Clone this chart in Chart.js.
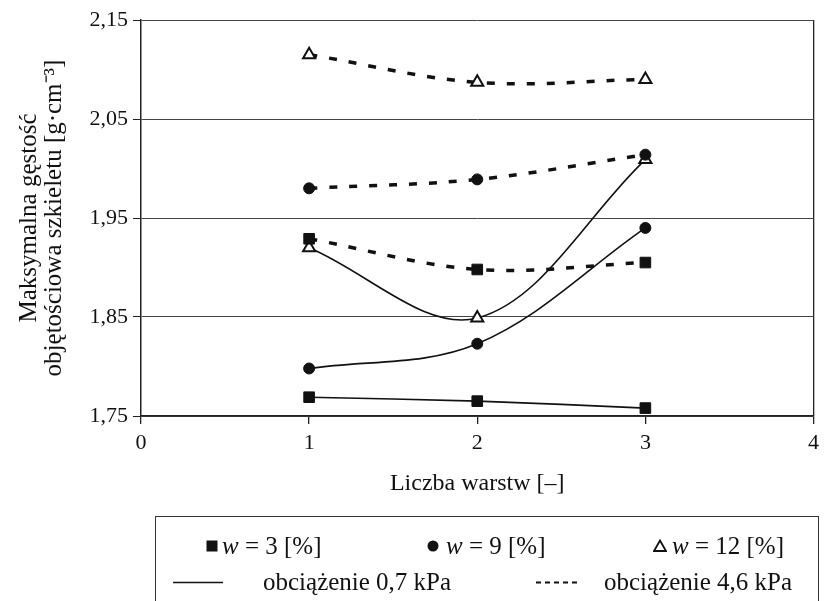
<!DOCTYPE html>
<html>
<head>
<meta charset="utf-8">
<script src="https://cdn.jsdelivr.net/npm/chart.js@4.4.0/dist/chart.umd.min.js"></script>
<style>
  html, body { margin: 0; padding: 0; background: #fff; }
  #wrap { position: relative; width: 825px; height: 601px; overflow: hidden;
          font-family: "Liberation Serif", serif; color: #111; }
  #chart { position: absolute; left: 0; top: 0; }
  #legend { position: absolute; left: 155px; top: 516px; width: 664px; height: 110px;
            border: 1.5px solid #333; box-sizing: border-box; }
  .txt { position: absolute; font-size: 25px; height: 28px; line-height: 28px; white-space: nowrap; }
  .ico { position: absolute; }
</style>
</head>
<body>
<div id="wrap">
  <canvas id="chart" width="825" height="601"></canvas>
  <div id="legend">
    <svg class="ico" style="left:50px;top:23px" width="12" height="12"><rect x="0.5" y="0.5" width="11" height="11" fill="#111"/></svg>
    <div class="txt" style="left:66px;top:15px"><i>w</i> = 3 [%]</div>
    <svg class="ico" style="left:271px;top:23px" width="12" height="12"><circle cx="6" cy="6" r="5.5" fill="#111"/></svg>
    <div class="txt" style="left:290px;top:15px"><i>w</i> = 9 [%]</div>
    <svg class="ico" style="left:497px;top:22px" width="14" height="13"><polygon points="7,1.5 13,12 1,12" fill="#fff" stroke="#111" stroke-width="1.8"/></svg>
    <div class="txt" style="left:516px;top:15px"><i>w</i> = 12 [%]</div>
    <svg class="ico" style="left:17px;top:64px" width="50" height="3"><line x1="0" y1="1.5" x2="50" y2="1.5" stroke="#111" stroke-width="1.6"/></svg>
    <div class="txt" style="left:107px;top:51px">obciążenie 0,7 kPa</div>
    <svg class="ico" style="left:380px;top:64px" width="42" height="3"><line x1="0" y1="1.5" x2="42" y2="1.5" stroke="#111" stroke-width="1.8" stroke-dasharray="5,4"/></svg>
    <div class="txt" style="left:448px;top:51px">obciążenie 4,6 kPa</div>
  </div>
</div>
<script>
const layers = [1, 2, 3];
const xTicks = [0, 1, 2, 3, 4];
const yTicks = [1.75, 1.85, 1.95, 2.05, 2.15];

// 0,7 kPa
const w3Low = [1.769, 1.765, 1.758];
const w9Low = [1.798, 1.823, 1.940];
const w12Low = [1.920, 1.849, 2.009];
// 4,6 kPa
const w3High = [1.929, 1.898, 1.905];
const w9High = [1.980, 1.989, 2.014];
const w12High = [2.115, 2.087, 2.090];

const serif = 'Liberation Serif';
const ink = '#111';

function series(label, values, dashed, marker, order) {
    const ds = {
        label: label,
        data: layers.map((x, i) => ({ x: x, y: values[i] })),
        borderColor: ink,
        borderWidth: dashed ? 3.5 : 1.6,
        borderDash: dashed ? [8, 12] : [],
        borderCapStyle: 'butt',
        tension: 0.35,
        fill: false,
        pointStyle: marker,
        pointBorderColor: ink,
        pointBackgroundColor: ink,
        pointBorderWidth: 1,
        pointRadius: 5.5,
        order: order
    };
    if (marker === 'rect') ds.pointRadius = 7.5;
    if (marker === 'triangle') {
        ds.pointBackgroundColor = '#fff';
        ds.pointBorderWidth = 2;
        ds.pointRadius = 7;
    }
    return ds;
}

const datasets = [
    series('w = 12 [%], 0,7 kPa', w12Low, false, 'triangle', 3),
    series('w = 12 [%], 4,6 kPa', w12High, true, 'triangle', 3),
    series('w = 3 [%], 0,7 kPa', w3Low, false, 'rect', 2),
    series('w = 3 [%], 4,6 kPa', w3High, true, 'rect', 2),
    series('w = 9 [%], 0,7 kPa', w9Low, false, 'circle', 1),
    series('w = 9 [%], 4,6 kPa', w9High, true, 'circle', 1)
];

const myChart = new Chart(document.getElementById('chart'), {
    type: 'line',
    data: { datasets: datasets },
    options: {
        responsive: false,
        animation: false,
        layout: { padding: { left: 0, right: 7, top: 20, bottom: 103 } },
        plugins: { legend: { display: false }, tooltip: { enabled: false } },
        scales: {
            x: {
                type: 'linear',
                min: 0,
                max: 4,
                afterBuildTicks: s => { s.ticks = xTicks.map(v => ({ value: v })); },
                afterFit: s => { s.height = 82; },
                grid: {
                    color: c => (c.tick && c.tick.value === 4) ? '#222' : 'rgba(0,0,0,0)',
                    tickColor: '#222',
                    tickLength: 8,
                    lineWidth: 1.3
                },
                border: { color: '#222', width: 1.5 },
                ticks: { color: ink, font: { family: serif, size: 22 }, padding: 6 },
                title: {
                    display: true,
                    text: 'Liczba warstw [–]',
                    color: ink,
                    font: { family: serif, size: 24 },
                    padding: { top: 0, bottom: 0 }
                }
            },
            y: {
                min: 1.75,
                max: 2.15,
                afterBuildTicks: s => { s.ticks = yTicks.map(v => ({ value: v })); },
                afterFit: s => { s.width = 141; },
                grid: { color: '#444', tickColor: '#222', tickLength: 8, lineWidth: 1 },
                border: { color: '#222', width: 1.5 },
                ticks: {
                    color: ink,
                    font: { family: serif, size: 22 },
                    padding: 5,
                    callback: v => v.toFixed(2).replace('.', ',')
                },
                title: {
                    display: true,
                    text: ['Maksymalna gęstość', 'objętościowa szkieletu [g·cm⁻³]'],
                    color: ink,
                    font: { family: serif, size: 25, lineHeight: 1.0 },
                    padding: { top: 17, bottom: 0 }
                }
            }
        }
    }
});
</script>
</body>
</html>
